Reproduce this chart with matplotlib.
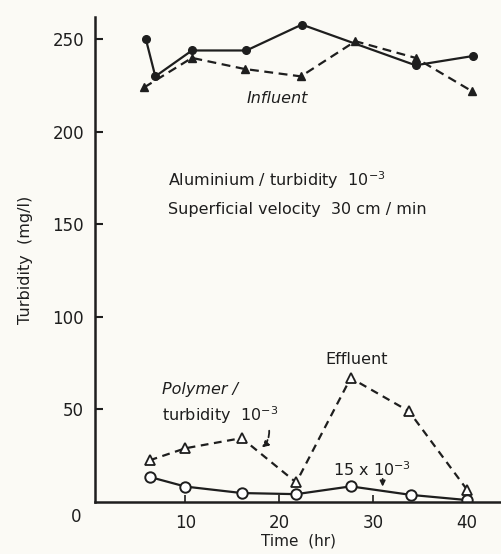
import matplotlib
matplotlib.use("Agg")
import matplotlib.pyplot as plt

# Influent (solid, filled circles)
inf_circ_t = [5.8, 6.8, 10.7, 16.5, 22.4, 34.5, 40.6]
inf_circ_y = [250, 230, 244, 244, 258, 236, 241]
# Influent (dashed, filled triangles)
inf_tri_t = [5.6, 10.7, 16.3, 22.3, 28.1, 34.5, 40.5]
inf_tri_y = [224, 240, 234, 230, 249, 240, 222]
# Effluent, polymer/turbidity 1e-3 (dashed, open triangles)
eff_tri_t = [6.2, 10, 16, 21.8, 27.6, 33.8, 40]
eff_tri_y = [22.5, 29, 34.5, 10.5, 67, 49, 6.5]
# Effluent, 15e-3 (solid, open circles)
eff_circ_t = [6.2, 10, 16, 21.8, 27.6, 34, 40]
eff_circ_y = [13.5, 8.3, 4.8, 4.2, 8.4, 3.8, 1]

yticks = [50, 100, 150, 200, 250]
xticks = [10, 20, 30, 40]

plt.rcParams['font.family'] = ['DejaVu Sans']
fig = plt.figure(figsize=(5.01, 5.54), dpi=100, facecolor='#fbfaf5')
ax = fig.add_axes([0.19, 0.094, 0.81, 0.875])
ax.set_facecolor('#fbfaf5')
ink = '#1e1e1e'

ax.plot(inf_circ_t, inf_circ_y, '-', color=ink, lw=1.6, marker='o', ms=5.5,
        mfc=ink, mec=ink)
ax.plot(inf_tri_t, inf_tri_y, '--', color=ink, lw=1.6, marker='^', ms=5.5,
        mfc=ink, mec=ink, dashes=(4, 2.5))
ax.plot(eff_tri_t, eff_tri_y, '--', color=ink, lw=1.6, marker='^', ms=7,
        mfc='white', mec=ink, mew=1.3, dashes=(3.5, 2.5))
ax.plot(eff_circ_t, eff_circ_y, '-', color=ink, lw=1.6, marker='o', ms=7.5,
        mfc='white', mec=ink, mew=1.4)

ax.set_xlim(0.4, 43.6)
ax.set_ylim(0, 262)
ax.spines['top'].set_visible(False)
ax.spines['right'].set_visible(False)
for s in ['left', 'bottom']:
    ax.spines[s].set_linewidth(1.8)
    ax.spines[s].set_color(ink)
ax.set_yticks(yticks)
ax.set_xticks(xticks)
ax.tick_params(axis='y', direction='in', length=6, width=1.5, pad=8,
               labelsize=12, colors=ink)
ax.tick_params(axis='x', direction='in', length=5, width=1.2, pad=9,
               labelsize=12, colors=ink)

ax.text(-1.6, -8, '0', ha='center', va='center', fontsize=12, color=ink,
        clip_on=False)
ax.set_xlabel('Time  (hr)', fontsize=11, color=ink, labelpad=1)
ax.set_ylabel('Turbidity  (mg/l)', fontsize=11.5, color=ink, labelpad=14)

fs = 11.5
ax.text(19.8, 218, 'Influent', ha='center', va='center', fontsize=fs,
        style='italic', color=ink)
ax.text(8.2, 174, 'Aluminium / turbidity  10$^{-3}$', ha='left', va='center',
        fontsize=fs, color=ink)
ax.text(8.2, 158, 'Superficial velocity  30 cm / min', ha='left', va='center',
        fontsize=fs, color=ink)
ax.text(28.2, 77, 'Effluent', ha='center', va='center', fontsize=fs, color=ink)
ax.text(7.5, 60.5, 'Polymer /', ha='left', va='center', fontsize=fs,
        style='italic', color=ink)
ax.text(7.5, 47, 'turbidity  10$^{-3}$', ha='left', va='center', fontsize=fs,
        color=ink)
ax.text(25.7, 17.5, '15 x 10$^{-3}$', ha='left', va='center', fontsize=fs,
        color=ink)

ax.annotate('', xy=(17.9, 28.5), xytext=(18.9, 40),
            arrowprops=dict(arrowstyle='-|>', color=ink, lw=1.3, ls='--',
                            connectionstyle='arc3,rad=-0.3', mutation_scale=9))
ax.annotate('', xy=(31.0, 6.8), xytext=(31.0, 14),
            arrowprops=dict(arrowstyle='-|>', color=ink, lw=1.2,
                            mutation_scale=8))

fig.savefig('out.png', dpi=100, facecolor=fig.get_facecolor())
